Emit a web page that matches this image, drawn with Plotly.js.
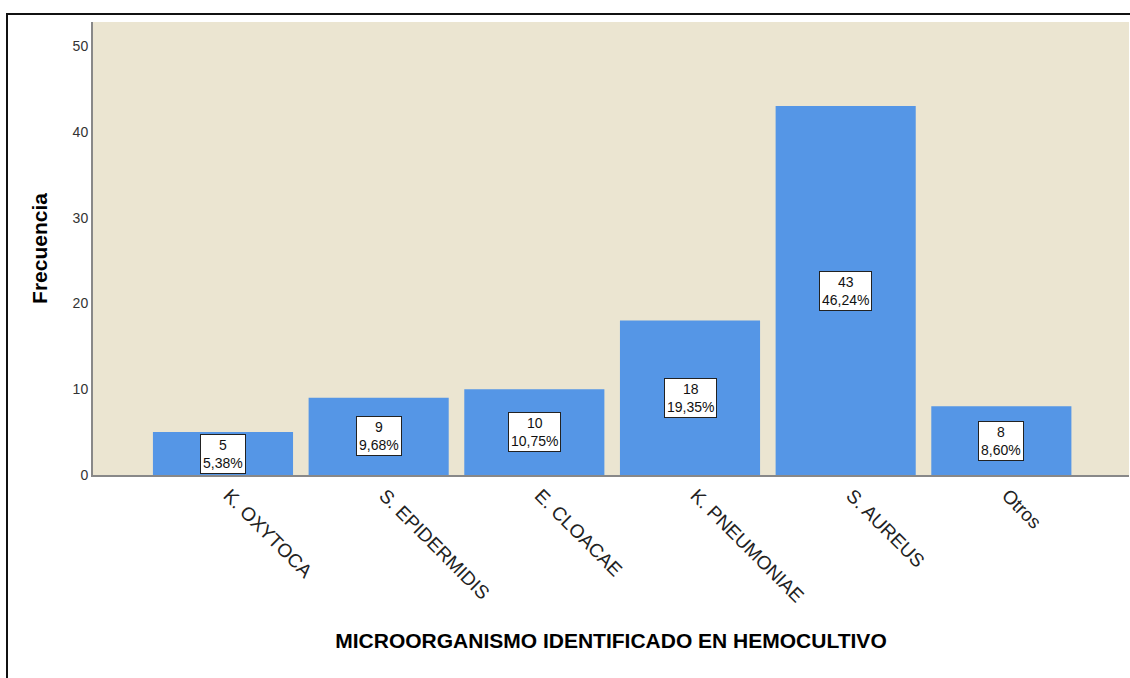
<!DOCTYPE html>
<html>
<head>
<meta charset="utf-8">
<script src="https://cdn.plot.ly/plotly-3.0.1.min.js"></script>
<style>
  html, body { margin: 0; padding: 0; background: #fff; overflow: hidden; }
  #chart { width: 1130px; height: 678px; position: absolute; left: 0; top: 0; }
  #frame { position: absolute; left: 6px; top: 13px; width: 1140px; height: 700px;
           border: 2px solid #111; pointer-events: none; box-sizing: border-box; }
</style>
</head>
<body>
<div id="chart"></div>
<div id="frame"></div>
<script>
const categories = ["K. OXYTOCA", "S. EPIDERMIDIS", "E. CLOACAE", "K. PNEUMONIAE", "S. AUREUS", "Otros"];
const counts = [5, 9, 10, 18, 43, 8];
const percentLabels = ["5,38%", "9,68%", "10,75%", "19,35%", "46,24%", "8,60%"];
const yTicks = [0, 10, 20, 30, 40, 50];

const trace = {
  type: "bar",
  x: categories,
  y: counts,
  marker: { color: "#5596E6", line: { width: 0 } },
  hoverinfo: "none"
};

const annotations = categories.map((c, i) => ({
  x: c,
  y: counts[i] / 2,
  xref: "x",
  yref: "y",
  text: counts[i] + "<br>" + percentLabels[i],
  showarrow: false,
  font: { family: "Liberation Sans, Arial, sans-serif", size: 14, color: "#111" },
  bgcolor: "#ffffff",
  bordercolor: "#222",
  borderwidth: 1,
  borderpad: 2
}));

const layout = {
  width: 1130,
  height: 678,
  margin: { l: 93, r: 1, t: 22, b: 203 },
  paper_bgcolor: "#ffffff",
  plot_bgcolor: "#EBE5D1",
  bargap: 0.1,
  showlegend: false,
  font: { family: "Liberation Sans, Arial, sans-serif", color: "#222" },
  xaxis: {
    range: [-0.835, 5.82],
    tickangle: 45,
    tickfont: { size: 19, color: "#222" },
    ticklabelshift: 6,
    showline: true,
    linecolor: "#888",
    linewidth: 2,
    ticks: "",
    showgrid: false,
    zeroline: false,
    automargin: false,
    title: {
      text: "MICROORGANISMO IDENTIFICADO EN HEMOCULTIVO",
      font: { size: 21, color: "#000", weight: "bold" },
      standoff: 28
    }
  },
  yaxis: {
    range: [0, 52.8],
    tickvals: yTicks,
    tickfont: { size: 14, color: "#333" },
    showline: true,
    linecolor: "#888",
    linewidth: 2,
    ticks: "",
    ticklen: 0,
    showgrid: false,
    zeroline: false,
    automargin: false,
    title: {
      text: "Frecuencia",
      font: { size: 21, color: "#000", weight: "bold" },
      standoff: 19
    }
  },
  annotations: annotations
};

Plotly.newPlot("chart", [trace], layout, { staticPlot: true, displayModeBar: false });
</script>
</body>
</html>
